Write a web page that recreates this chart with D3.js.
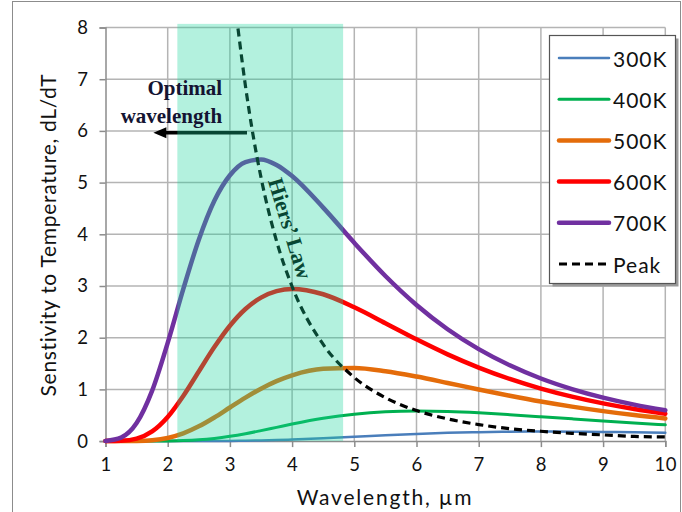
<!DOCTYPE html>
<html>
<head>
<meta charset="utf-8">
<script src="https://cdn.jsdelivr.net/npm/d3@7"></script>
<style>
  body { margin: 0; background: #fff; }
  svg { display: block; }
</style>
</head>
<body>
<div id="chart"></div>
<script>
// wavelength grid, um
const wavelength = [1, 1.25, 1.5, 1.75, 2, 2.25, 2.5, 2.75, 3, 3.25, 3.5, 3.75, 4,
    4.5, 5, 5.5, 6, 6.5, 7, 7.5, 8, 8.5, 9, 9.5, 10];

// sensitivity dL/dT
const k300 = [0, 0, 0, 0, 0, 0, 0, 0.001, 0.003, 0.006, 0.012, 0.019, 0.029,
    0.055, 0.084, 0.114, 0.139, 0.160, 0.173, 0.181, 0.184, 0.182, 0.177, 0.170, 0.162];
const k400 = [0, 0, 0, 0, 0.003, 0.010, 0.025, 0.052, 0.092, 0.143, 0.203, 0.266, 0.329,
    0.441, 0.521, 0.567, 0.581, 0.572, 0.547, 0.511, 0.471, 0.430, 0.389, 0.350, 0.314];
const k500 = [0, 0, 0.003, 0.017, 0.061, 0.149, 0.285, 0.457, 0.650, 0.840, 1.014, 1.160, 1.273,
    1.399, 1.414, 1.352, 1.248, 1.125, 0.998, 0.878, 0.766, 0.667, 0.580, 0.503, 0.438];
const k600 = [0, 0.006, 0.048, 0.188, 0.467, 0.873, 1.347, 1.819, 2.232, 2.555, 2.776, 2.900, 2.942,
    2.840, 2.588, 2.281, 1.968, 1.678, 1.422, 1.202, 1.016, 0.860, 0.729, 0.620, 0.529];
const k700 = [0.004, 0.067, 0.348, 0.976, 1.901, 2.939, 3.896, 4.648, 5.142, 5.398, 5.448, 5.341, 5.126,
    4.516, 3.835, 3.194, 2.634, 2.164, 1.779, 1.466, 1.211, 1.007, 0.841, 0.706, 0.596];

// locus of the peaks (dashed)
const peakWl = [3.13, 3.25, 3.375, 3.5, 3.75, 4, 4.5, 5, 5.5, 6, 6.5, 7, 7.5, 8, 8.5, 9, 9.5, 10];
const peakVal = [7.98, 6.87, 5.90, 5.10, 3.87, 2.99, 1.87, 1.23, 0.84, 0.59, 0.43, 0.32, 0.24,
    0.19, 0.15, 0.12, 0.09, 0.08];

const seriesNames = ["300K", "400K", "500K", "600K", "700K"];
const seriesValues = [k300, k400, k500, k600, k700];

// optimal band, um
const bandStart = 2.155, bandEnd = 4.82;

const xTicks = d3.range(1, 11);
const yTicks = d3.range(0, 9);

const colors = {"300K": "#4a7ebb", "400K": "#00b050", "500K": "#e46c0a", "600K": "#ff0000", "700K": "#7030a0"};
const widths = {"300K": 2.5, "400K": 3, "500K": 4.5, "600K": 4.5, "700K": 4.5};

const W = 682, H = 512;
const svg = d3.select("#chart").append("svg").attr("width", W).attr("height", H);
svg.append("rect").attr("width", W).attr("height", H).attr("fill", "#fff");
// outer frame
svg.append("rect").attr("x", 12.5).attr("y", 1.5).attr("width", 668).attr("height", 530)
    .attr("fill", "none").attr("stroke", "#8c8c8c").attr("stroke-width", 1);

const x = d3.scaleLinear().domain([1, 10]).range([105.5, 665.3]);
const y = d3.scaleLinear().domain([0, 8]).range([441.1, 27.5]);

const font = "Lato, 'Open Sans', sans-serif";
const ink = "#111";

// grid
const grid = svg.append("g").attr("stroke", "#b4b4b4").attr("stroke-width", 1.5);
grid.selectAll(".v").data(xTicks.slice(1)).join("line")
    .attr("x1", d => x(d)).attr("x2", d => x(d)).attr("y1", y(0)).attr("y2", y(8));
grid.selectAll(".h").data(yTicks.slice(1)).join("line")
    .attr("y1", d => y(d)).attr("y2", d => y(d)).attr("x1", x(1)).attr("x2", x(10));

// axes
const xAxis = svg.append("g").attr("transform", `translate(0,${y(0)})`)
    .call(d3.axisBottom(x).tickValues(xTicks).tickSize(6).tickPadding(11).tickFormat(d3.format("d")));
const yAxis = svg.append("g").attr("transform", `translate(${x(1)},0)`)
    .call(d3.axisLeft(y).tickValues(yTicks).tickSize(6).tickPadding(11).tickFormat(d3.format("d")));
[xAxis, yAxis].forEach(a => {
    a.select(".domain").attr("stroke", "#8c8c8c").attr("stroke-width", 1.5);
    a.selectAll(".tick line").attr("stroke", "#8c8c8c").attr("stroke-width", 1.5);
    a.selectAll("text").attr("font-family", font).attr("font-size", 18.5)
        .attr("letter-spacing", 0.5).attr("fill", ink);
});

// curves
const line = d3.line().x(d => x(d[0])).y(d => y(d[1])).curve(d3.curveMonotoneX);
seriesNames.forEach((name, i) => {
    const pts = wavelength.map((w, j) => [w, seriesValues[i][j]]);
    svg.append("path").attr("d", line(pts)).attr("fill", "none")
        .attr("stroke", colors[name]).attr("stroke-width", widths[name]).attr("stroke-linecap", "round");
});
svg.append("path").attr("d", line(peakWl.map((w, j) => [w, peakVal[j]])))
    .attr("fill", "none").attr("stroke", "#000").attr("stroke-width", 3.2).attr("stroke-dasharray", "8,5");

// Hiers' law label and arrow (under the band tint)
svg.append("text").attr("transform", `translate(${x(3.93)},${y(4.1)}) rotate(73)`)
    .attr("text-anchor", "middle").attr("dominant-baseline", "middle")
    .attr("font-family", "'Liberation Serif', serif").attr("font-weight", "bold").attr("font-size", 22)
    .attr("fill", "#000").text("Hiers’ Law");

const ay = y(5.965);
svg.append("line").attr("x1", x(3.275)).attr("x2", x(1.95)).attr("y1", ay).attr("y2", ay)
    .attr("stroke", "#000").attr("stroke-width", 3.5);
svg.append("path")
    .attr("d", `M${x(1.77)},${ay} L${x(1.77) + 13},${ay - 5.5} L${x(1.77) + 13},${ay + 5.5} Z`)
    .attr("fill", "#000");

// optimal band
svg.append("rect").attr("x", x(bandStart)).attr("y", y(8.07))
    .attr("width", x(bandEnd) - x(bandStart)).attr("height", y(0) - y(8.07))
    .attr("fill", "rgb(24,212,155)").attr("opacity", 0.33);

const opt = svg.append("text").attr("text-anchor", "end")
    .attr("font-family", "'Liberation Serif', serif").attr("font-weight", "bold").attr("font-size", 21)
    .attr("fill", "#141432");
opt.append("tspan").attr("x", x(2.875)).attr("y", y(6.69)).text("Optimal");
opt.append("tspan").attr("x", x(2.875)).attr("y", y(6.15)).text("wavelength");

// axis titles
svg.append("text").attr("x", 385).attr("y", 505).attr("text-anchor", "middle")
    .attr("font-family", font).attr("font-size", 21).attr("letter-spacing", 1.8)
    .attr("fill", ink).text("Wavelength, µm");
svg.append("text").attr("transform", `translate(56,235) rotate(-90)`).attr("text-anchor", "middle")
    .attr("font-family", font).attr("font-size", 21).attr("letter-spacing", 0.7).attr("fill", ink)
    .text("Senstivity to Temperature, dL/dT");

// legend
const lg = svg.append("g");
lg.append("rect").attr("x", 552.5).attr("y", 38.5).attr("width", 126).attr("height", 248).attr("fill", "#9a9a9a");
lg.append("rect").attr("x", 549.5).attr("y", 35.5).attr("width", 126).attr("height", 248)
    .attr("fill", "#fff").attr("stroke", "#555").attr("stroke-width", 1.2);
const legendItems = seriesNames.concat(["Peak"]);
const ly = d3.scalePoint().domain(legendItems).range([58, 264]);
legendItems.forEach(name => {
    const g = lg.append("g").attr("transform", `translate(0,${ly(name)})`);
    g.append("line").attr("x1", 559).attr("x2", 609).attr("y1", 0).attr("y2", 0)
        .attr("stroke", name === "Peak" ? "#000" : colors[name])
        .attr("stroke-width", name === "Peak" ? 3.2 : widths[name])
        .attr("stroke-dasharray", name === "Peak" ? "8,5" : null)
        .attr("stroke-linecap", name === "Peak" ? "butt" : "round");
    g.append("text").attr("x", 613).attr("y", 0).attr("dominant-baseline", "central")
        .attr("font-family", font).attr("font-size", 21).attr("letter-spacing", 1)
        .attr("fill", ink).text(name);
});
</script>
</body>
</html>
